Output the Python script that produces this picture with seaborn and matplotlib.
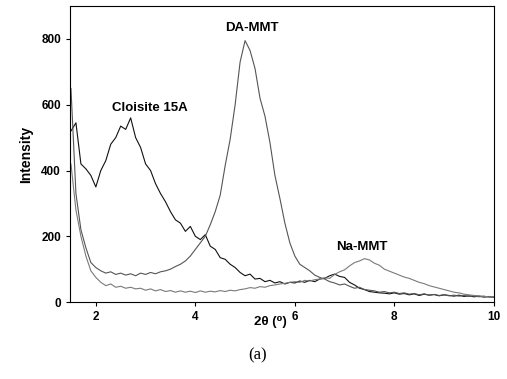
import numpy as np
import pandas as pd
import seaborn as sns
import matplotlib.pyplot as plt

two_theta = [round(1.5 + 0.1 * i, 1) for i in range(86)]

cloisite_15a = [520, 545, 420, 405, 385, 350, 400, 430, 480, 500,
                535, 525, 560, 500, 470, 420, 400, 360, 330, 305,
                275, 250, 240, 215, 230, 200, 190, 205, 170, 160,
                135, 130, 115, 105, 90, 80, 85, 70, 72, 62,
                66, 58, 62, 55, 60, 58, 64, 60, 66, 62,
                70, 72, 80, 85, 78, 75, 60, 52, 42, 38,
                32, 30, 28, 27, 25, 28, 24, 26, 22, 25,
                20, 24, 21, 23, 19, 22, 20, 18, 21, 17,
                19, 16, 18, 15, 17, 14]

da_mmt = [650, 330, 220, 165, 120, 105, 95, 88, 92, 84,
          88, 82, 86, 80, 88, 84, 90, 86, 92, 95,
          100, 108, 115, 125, 140, 160, 180, 200, 235, 275,
          325, 415, 495, 600, 730, 795, 765, 710, 620, 565,
          485, 385, 315, 240, 180, 140, 115, 105, 95, 82,
          75, 70, 62, 58, 52, 55, 48, 42, 45, 38,
          36, 34, 30, 32, 28, 30, 26, 28, 24, 26,
          22, 25, 21, 23, 20, 22, 19, 21, 18, 20,
          17, 19, 16, 18, 15, 16]

na_mmt = [420, 280, 200, 140, 95, 75, 60, 50, 55, 45,
          48, 42, 45, 40, 42, 36, 40, 34, 38, 32,
          35, 30, 34, 30, 33, 29, 34, 30, 33, 31,
          35, 32, 36, 34, 38, 40, 44, 42, 47, 45,
          50, 52, 55, 57, 60, 62, 60, 66, 64, 68,
          70, 74, 72, 84, 92, 98, 110, 120, 125, 132,
          128, 118, 112, 100, 94, 88, 82, 76, 72, 66,
          60, 56, 50, 46, 42, 38, 34, 30, 28, 24,
          22, 20, 19, 17, 16, 15]

series_names = ["Cloisite 15A", "DA-MMT", "Na-MMT"]
x_ticks = [2, 4, 6, 8, 10]
y_ticks = [0, 200, 400, 600, 800]

df = pd.concat([
    pd.DataFrame({"two_theta": two_theta, "intensity": vals, "sample": name})
    for name, vals in zip(series_names, [cloisite_15a, da_mmt, na_mmt])
])

sns.set_theme(style="ticks")
plt.rcParams['font.family'] = ['Liberation Sans', 'DejaVu Sans']
plt.rcParams['text.color'] = 'black'
plt.rcParams['axes.labelcolor'] = 'black'
plt.rcParams['xtick.color'] = 'black'
plt.rcParams['ytick.color'] = 'black'

fig = plt.figure(figsize=(5.07, 3.79), dpi=100)
ax = fig.add_axes([0.138, 0.203, 0.836, 0.781])

palette = {"Cloisite 15A": "#111111", "DA-MMT": "#555555", "Na-MMT": "#7a7a7a"}
sns.lineplot(data=df, x="two_theta", y="intensity", hue="sample",
             palette=palette, linewidth=0.8, legend=False, ax=ax,
             sort=False, estimator=None)

ax.set_xlim(1.48, 10)
ax.set_ylim(0, 900)
ax.set_xticks(x_ticks)
ax.set_yticks(y_ticks)
ax.set_xticklabels([str(t) for t in x_ticks], fontweight="bold", fontsize=8.5)
ax.set_yticklabels([str(t) for t in y_ticks], fontweight="bold", fontsize=8.5)
ax.tick_params(direction="out", length=3, width=0.8, colors="black")
for s in ax.spines.values():
    s.set_linewidth(0.8)
    s.set_color("black")
ax.set_xlabel("")
ax.set_ylabel("Intensity", fontweight="bold", fontsize=10, labelpad=6)

ax.text(3.08, 590, "Cloisite 15A", ha="center", va="center",
        fontweight="bold", fontsize=9.5, color="black")
ax.text(5.14, 833, "DA-MMT", ha="center", va="center",
        fontweight="bold", fontsize=9.5, color="black")
ax.text(7.34, 167, "Na-MMT", ha="center", va="center",
        fontweight="bold", fontsize=9.5, color="black")

fig.text(270 / 507, 1 - 322 / 379, "2θ (⁰)", ha="center",
         va="center", fontweight="bold", fontsize=9.5, color="black",
         family=["Liberation Sans", "DejaVu Sans"])
fig.text(258 / 507, 1 - 355 / 379, "(a)", ha="center", va="center",
         fontsize=12, color="black", family=["Liberation Serif", "DejaVu Serif"])

fig.savefig("out.png", dpi=100)
